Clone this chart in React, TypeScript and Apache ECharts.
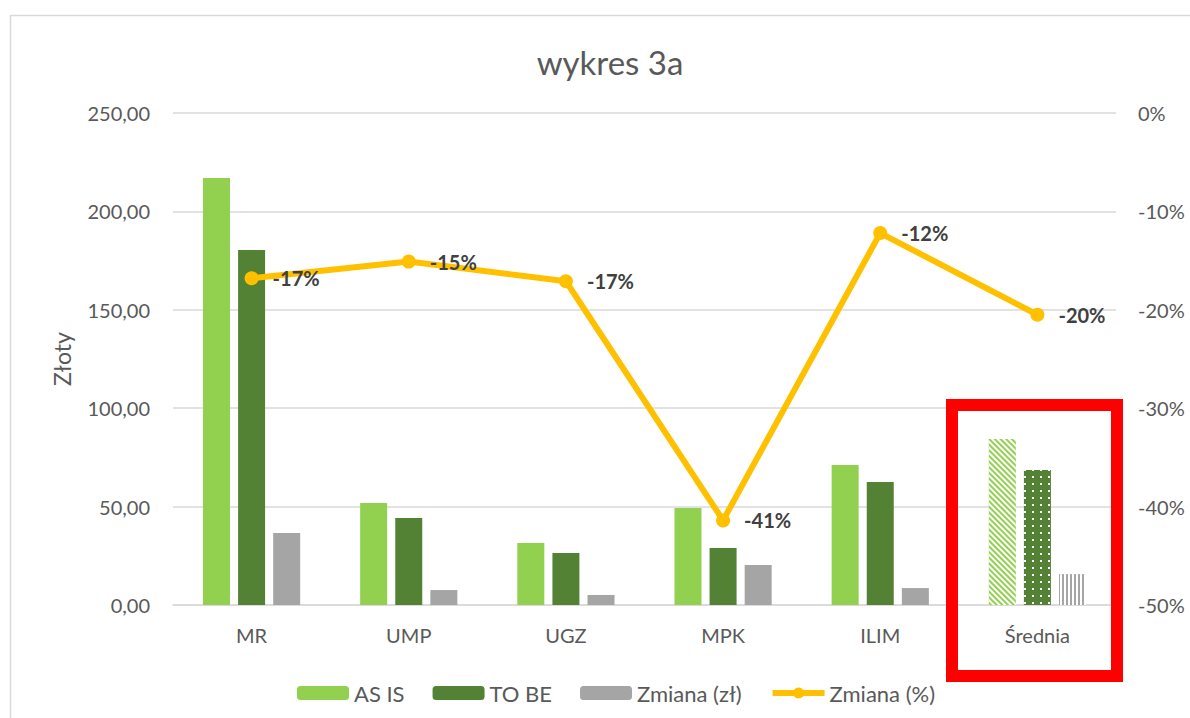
import React, { useEffect, useRef } from "react";
import * as echarts from "echarts";

const categories = ["MR", "UMP", "UGZ", "MPK", "ILIM", "Średnia"];
const asIs = [217.0, 51.8, 31.5, 49.3, 71.1, 84.3];
const toBe = [180.4, 44.2, 26.4, 29.0, 62.5, 68.6];
const zmianaZl = [36.6, 7.6, 5.1, 20.3, 8.6, 15.7];
const zmianaPct = [-16.8, -15.1, -17.1, -41.4, -12.2, -20.5];
const legendNames = ["AS IS", "TO BE", "Zmiana (zł)", "Zmiana (%)"];

const FONT = "Lato";
const TXT = "#595959";

export default function App() {
  const ref = useRef<HTMLDivElement>(null);
  useEffect(() => {
    if (!ref.current) return;
    const chart = echarts.init(ref.current, undefined, { renderer: "svg" });
    const last = categories.length - 1;
    const asIsData = asIs.map((v, i) =>
      i === last
        ? {
            value: v,
            itemStyle: {
              color: "#92D050",
              decal: {
                symbol: "rect",
                symbolSize: 1,
                color: "#ffffff",
                dashArrayX: [1, 0],
                dashArrayY: [2, 2],
                rotation: Math.PI / 4,
              },
            },
          }
        : v
    );
    const toBeData = toBe.map((v, i) =>
      i === last
        ? {
            value: v,
            itemStyle: {
              color: "#548235",
              decal: {
                symbol: "rect",
                symbolSize: 1,
                color: "#ffffff",
                dashArrayX: [2, 6],
                dashArrayY: [2, 5],
              },
            },
          }
        : v
    );
    const zmData = zmianaZl.map((v, i) =>
      i === last
        ? {
            value: v,
            itemStyle: {
              color: "#A5A5A5",
              decal: {
                symbol: "rect",
                symbolSize: 1,
                color: "#ffffff",
                dashArrayX: [2, 2],
                dashArrayY: [1, 0],
              },
            },
          }
        : v
    );
    chart.setOption({
      animation: false,
      backgroundColor: "#ffffff",
      textStyle: { fontFamily: FONT },
      title: {
        text: "wykres 3a",
        left: 605,
        top: 40,
        textAlign: "center",
        textStyle: { fontFamily: FONT, fontSize: 33, fontWeight: "normal", color: TXT },
      },
      grid: { left: 173, right: 74, top: 113, bottom: 113 },
      legend: {
        data: [
          legendNames[0],
          legendNames[1],
          legendNames[2],
          { name: legendNames[3], lineStyle: { width: 6 } },
        ],
        left: 292,
        top: 677,
        itemWidth: 52,
        itemHeight: 14,
        itemGap: 28,
        textStyle: { fontFamily: FONT, fontSize: 22, color: TXT },
      },
      xAxis: {
        type: "category",
        data: categories,
        axisTick: { show: false },
        axisLine: { lineStyle: { color: "#D9D9D9", width: 1.5 } },
        axisLabel: { fontFamily: FONT, fontSize: 20, color: TXT, margin: 20 },
      },
      yAxis: [
        {
          type: "value",
          min: 0,
          max: 250,
          interval: 50,
          name: "Złoty",
          nameLocation: "middle",
          nameGap: 100,
          nameTextStyle: { fontFamily: FONT, fontSize: 23, color: TXT },
          axisLine: { show: false },
          axisTick: { show: false },
          splitLine: { lineStyle: { color: "#D9D9D9", width: 1.5 } },
          axisLabel: {
            fontFamily: FONT,
            fontSize: 20,
            color: TXT,
            margin: 23,
            formatter: (v: number) => v.toFixed(2).replace(".", ","),
          },
        },
        {
          type: "value",
          min: -50,
          max: 0,
          interval: 10,
          position: "right",
          axisLine: { show: false },
          axisTick: { show: false },
          splitLine: { show: false },
          axisLabel: {
            fontFamily: FONT,
            fontSize: 20,
            color: TXT,
            margin: 22,
            formatter: (v: number) => `${v}%`,
          },
        },
      ],
      series: [
        {
          name: "AS IS",
          type: "bar",
          data: asIsData,
          barWidth: 27,
          barGap: "30%",
          itemStyle: { color: "#92D050" },
        },
        {
          name: "TO BE",
          type: "bar",
          data: toBeData,
          barWidth: 27,
          barGap: "30%",
          itemStyle: { color: "#548235" },
        },
        {
          name: "Zmiana (zł)",
          type: "bar",
          data: zmData,
          barWidth: 27,
          barGap: "30%",
          itemStyle: { color: "#A5A5A5" },
        },
        {
          name: "Zmiana (%)",
          type: "line",
          yAxisIndex: 1,
          data: zmianaPct,
          z: 5,
          symbol: "circle",
          symbolSize: 14,
          itemStyle: { color: "#FFC000" },
          lineStyle: { color: "#FFC000", width: 6 },
          label: {
            show: true,
            position: "right",
            distance: 14,
            fontFamily: FONT,
            fontSize: 20,
            fontWeight: "bold",
            color: "#404040",
            formatter: (p: any) => `${Math.round(p.value)}%`,
          },
        },
      ],
      graphic: [
        {
          type: "rect",
          shape: { x: 10.5, y: 15.5, width: 1300, height: 800 },
          style: { fill: "none", stroke: "#D9D9D9", lineWidth: 1.5 },
          silent: true,
        },
        {
          type: "rect",
          shape: { x: 952, y: 405, width: 165, height: 271 },
          style: { fill: "none", stroke: "#FF0000", lineWidth: 12 },
          silent: true,
          z: 100,
        },
      ],
    });
    return () => chart.dispose();
  }, []);
  return (
    <div
      ref={ref}
      style={{ position: "fixed", left: 0, top: 0, width: 1190, height: 718 }}
    />
  );
}
